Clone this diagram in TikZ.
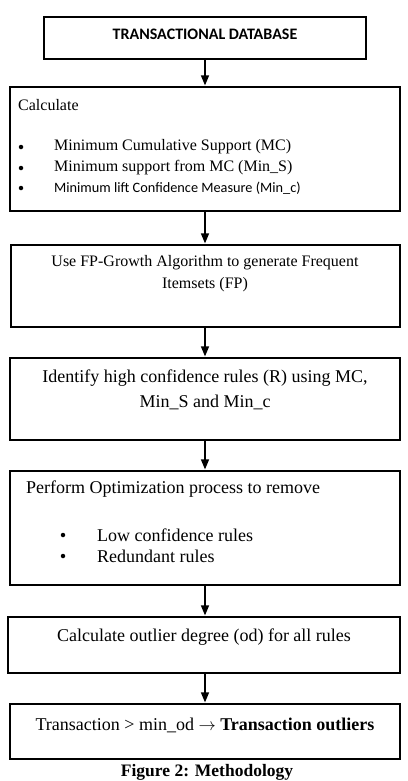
\documentclass[tikz,border=0pt]{standalone}
\usepackage{fontspec}
\setmainfont{Liberation Serif}
\newfontfamily\carl{Carlito}
\usetikzlibrary{arrows.meta}
\begin{document}
\begin{tikzpicture}[x=1pt,y=-1pt,
  box/.style={draw,line width=1.2pt,inner sep=0pt},
  txt/.style={inner sep=0pt,font=\fontsize{16}{19}\selectfont},
  big/.style={inner sep=0pt,font=\fontsize{18}{21}\selectfont},
  lft/.style={txt,anchor=west},
  blft/.style={big,anchor=west},
  dot/.style={circle,fill,inner sep=0pt,minimum size=4.5pt},
  flow/.style={-{Triangle[length=10pt,width=8pt]},line width=1.4pt,shorten >=1pt}]
\useasboundingbox (0,0) rectangle (407,781);
\fill[white] (0,0) rectangle (407,781);
% boxes
\node[box,minimum width=322pt,minimum height=42pt] (b1) at (205,38) {};
\node[box,minimum width=390pt,minimum height=124pt] (b2) at (205,149) {};
\node[box,minimum width=389pt,minimum height=82pt] (b3) at (205.5,286) {};
\node[box,minimum width=390pt,minimum height=82pt] (b4) at (205,399) {};
\node[box,minimum width=390pt,minimum height=114pt] (b5) at (205,528) {};
\node[box,minimum width=392pt,minimum height=56pt] (b6) at (204,645) {};
\node[box,minimum width=390pt,minimum height=55pt] (b7) at (205,731.5) {};
% texts
\node[inner sep=0pt,font=\carl\bfseries\fontsize{16}{19}\selectfont] (t1) at (205,34) {TRANSACTIONAL DATABASE};
\node[lft] (t2) at (18,105) {Calculate};
\node[dot] (t2b1) at (21,147) {};
\node[lft] (t2i1) at (54,147) {Minimum Cumulative Support (MC)};
\node[dot] (t2b2) at (21,168) {};
\node[lft] (t2i2) at (54,168) {Minimum support from MC (Min\_S)};
\node[dot] (t2b3) at (21,188) {};
\node[lft,font=\carl\fontsize{14.3}{17}\selectfont] (t2i3) at (54,188) {Minimum lift Confidence Measure (Min\_c)};
\node[txt] (t3a) at (205,263) {Use FP-Growth Algorithm to generate Frequent};
\node[txt] (t3b) at (205,285) {Itemsets (FP)};
\node[big] (t4a) at (205,378) {Identify high confidence rules (R) using MC,};
\node[big] (t4b) at (205,402) {Min\_S and Min\_c};
\node[blft] (t5) at (26,489) {Perform Optimization process to remove};
\node[dot] (t5b1) at (63,535) {};
\node[blft] (t5i1) at (97,535) {Low confidence rules};
\node[dot] (t5b2) at (63,556) {};
\node[blft] (t5i2) at (97,556) {Redundant rules};
\node[big] (t6) at (204,637) {Calculate outlier degree (od) for all rules};
\node[big] (t7) at (205,725) {Transaction > min\_od $\rightarrow$ \textbf{Transaction outliers}};
\node[inner sep=0pt,font=\bfseries\fontsize{17.5}{20}\selectfont] (cap) at (207,772) {Figure 2: Methodology};
% arrows
\draw[flow] (b1.south) -- (b2.north);
\draw[flow] (b2.south) -- (b3.north -| b2.south);
\draw[flow] (b3.south -| b2.south) -- (b4.north);
\draw[flow] (b4.south) -- (b5.north);
\draw[flow] (b5.south) -- (b6.north -| b5.south);
\draw[flow] (b6.south -| b5.south) -- (b7.north);
\end{tikzpicture}
\end{document}
